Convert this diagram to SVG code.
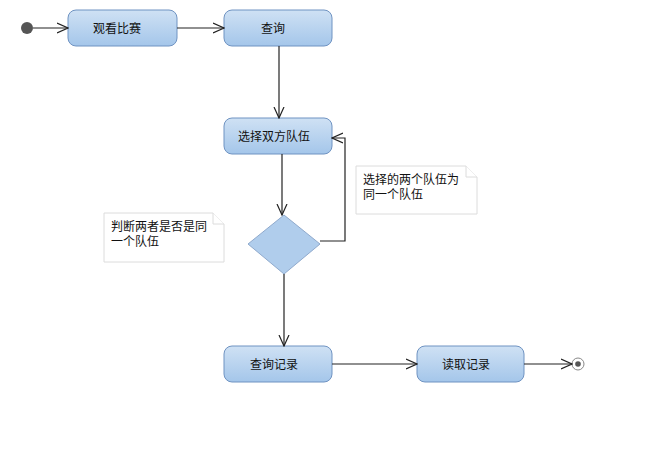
<svg xmlns="http://www.w3.org/2000/svg" width="665" height="450" viewBox="0 0 665 450">
<style>
.node rect{fill:url(#g);stroke:#6f93c2;stroke-width:1}
.dia{fill:#b0cdec;stroke:#8fa9cc;stroke-width:1}
text{font-family:"Liberation Sans","Noto Sans CJK SC",sans-serif;font-size:12px;fill:#111}
.lbl{text-anchor:middle}
.conn path{fill:none;stroke:#222;stroke-width:1.2}
.note path{fill:#fff;stroke:#dcdcdc;stroke-width:1}
</style>
<defs>
<linearGradient id="g" x1="0" y1="0" x2="0" y2="1">
<stop offset="0" stop-color="#cfe1f4"/>
<stop offset="1" stop-color="#a4c6ea"/>
</linearGradient>
<marker id="a" viewBox="0 0 12 12" refX="11" refY="6" markerWidth="12" markerHeight="12" markerUnits="userSpaceOnUse" orient="auto">
<path d="M0,1 L11,6 L0,11" fill="none" stroke="#222" stroke-width="1.2"/>
</marker>
</defs>
<rect width="665" height="450" fill="#fff"/>
<g id="start"><circle cx="27" cy="28" r="6" fill="#555"/></g>
<g id="n1" class="node"><rect x="68" y="10" width="109" height="36" rx="8"/><text class="lbl" x="117" y="32.5" font-size="13">观看比赛</text></g>
<g id="n2" class="node"><rect x="224" y="10" width="108" height="36" rx="8"/><text class="lbl" x="273" y="32.5">查询</text></g>
<g id="n3" class="node"><rect x="224" y="118" width="108" height="36" rx="8"/><text class="lbl" x="274" y="140.5">选择双方队伍</text></g>
<g id="d1"><path class="dia" d="M284,215 L320,244 L284,274 L248,244 Z"/></g>
<g id="n4" class="node"><rect x="224" y="346" width="108" height="36" rx="8"/><text class="lbl" x="274" y="368.5">查询记录</text></g>
<g id="n5" class="node"><rect x="417" y="346" width="107" height="36" rx="8"/><text class="lbl" x="466" y="368.5">读取记录</text></g>
<g id="end"><circle cx="578" cy="364" r="6" fill="#fff" stroke="#888" stroke-width="1"/><circle cx="578" cy="364" r="2.8" fill="#555"/></g>
<g id="note1" class="note"><path d="M356,166 H466 L477,177 V214 H356 Z"/><path d="M466,166 V177 H477" fill="none"/><text x="363" y="184">选择的两个队伍为</text><text x="363" y="199">同一个队伍</text></g>
<g id="note2" class="note"><path d="M104,213 H213 L224,224 V262 H104 Z"/><path d="M213,213 V224 H224" fill="none"/><text x="111" y="231">判断两者是否是同</text><text x="111" y="246">一个队伍</text></g>
<g id="connectors" class="conn">
<path d="M33,28 H68" marker-end="url(#a)"/>
<path d="M177,28 H224" marker-end="url(#a)"/>
<path d="M279,46 V118" marker-end="url(#a)"/>
<path d="M282,154 V215" marker-end="url(#a)"/>
<path d="M320,241 H345 V138 H332" marker-end="url(#a)"/>
<path d="M284,274 V346" marker-end="url(#a)"/>
<path d="M332,364 H417" marker-end="url(#a)"/>
<path d="M524,364 H572" marker-end="url(#a)"/>
</g>
</svg>
